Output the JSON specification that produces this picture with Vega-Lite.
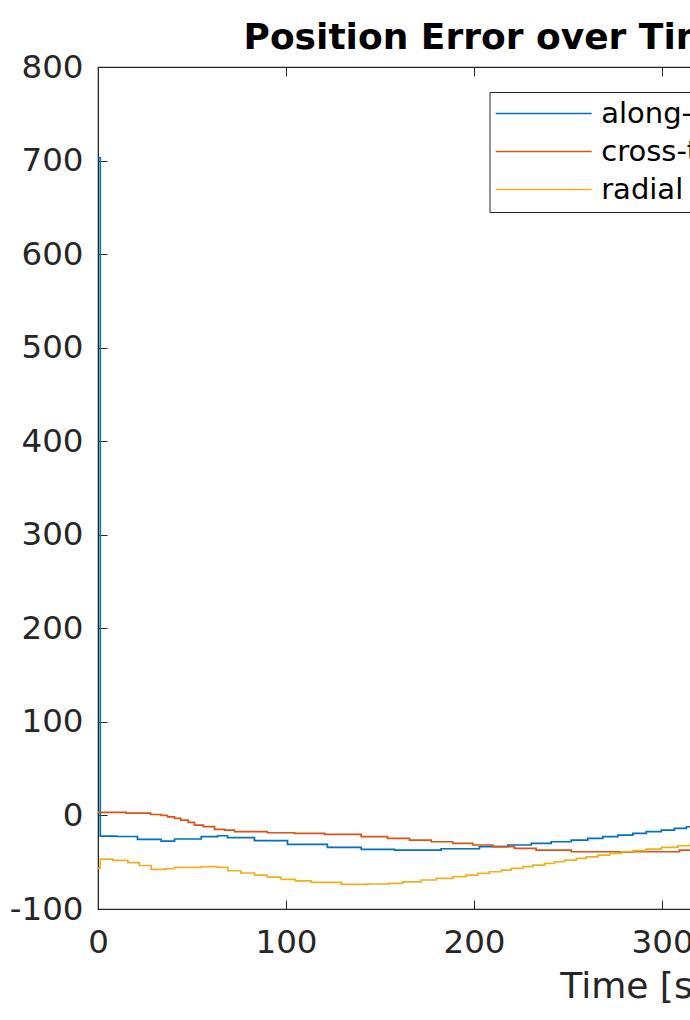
{
  "$schema": "https://vega.github.io/schema/vega-lite/v6.json",
  "width": 1070,
  "height": 842,
  "autosize": {"type": "pad"},
  "padding": {"left": 0, "top": 20, "right": 0, "bottom": 0},
  "background": "white",
  "config": {
    "font": "DejaVu Sans",
    "view": {"stroke": "#262626", "strokeWidth": 1.2}
  },
  "title": {
    "text": "Position Error over Time",
    "anchor": "start",
    "frame": "group",
    "dx": 145.5,
    "fontSize": 36,
    "fontWeight": "bold",
    "color": "#000000",
    "font": "DejaVu Sans",
    "offset": -6
  },
  "data": {
    "values": [
      {"t": 0, "v": 703, "c": "along-track"},
      {"t": 1.2, "v": -22, "c": "along-track"},
      {"t": 10, "v": -22.5, "c": "along-track"},
      {"t": 21, "v": -25.6, "c": "along-track"},
      {"t": 33.6, "v": -27.4, "c": "along-track"},
      {"t": 40.7, "v": -25.2, "c": "along-track"},
      {"t": 54.9, "v": -22.7, "c": "along-track"},
      {"t": 63.6, "v": -21.7, "c": "along-track"},
      {"t": 68.9, "v": -23.8, "c": "along-track"},
      {"t": 83.2, "v": -27, "c": "along-track"},
      {"t": 100.8, "v": -30.9, "c": "along-track"},
      {"t": 122, "v": -34.1, "c": "along-track"},
      {"t": 140, "v": -36.3, "c": "along-track"},
      {"t": 157.7, "v": -37, "c": "along-track"},
      {"t": 182.5, "v": -35.6, "c": "along-track"},
      {"t": 202.9, "v": -33.4, "c": "along-track"},
      {"t": 218, "v": -31.6, "c": "along-track"},
      {"t": 230.4, "v": -29.8, "c": "along-track"},
      {"t": 241, "v": -28.1, "c": "along-track"},
      {"t": 251.7, "v": -26.3, "c": "along-track"},
      {"t": 260.5, "v": -24.5, "c": "along-track"},
      {"t": 268.5, "v": -22.7, "c": "along-track"},
      {"t": 276.5, "v": -21, "c": "along-track"},
      {"t": 284.5, "v": -19.2, "c": "along-track"},
      {"t": 291.6, "v": -17.4, "c": "along-track"},
      {"t": 299.6, "v": -15.6, "c": "along-track"},
      {"t": 306.6, "v": -13.8, "c": "along-track"},
      {"t": 312.9, "v": -12.1, "c": "along-track"},
      {"t": 320, "v": -11, "c": "along-track"},
      {"t": 0, "v": 3.3, "c": "cross-track"},
      {"t": 15, "v": 2.5, "c": "cross-track"},
      {"t": 28, "v": 1, "c": "cross-track"},
      {"t": 33.6, "v": 0, "c": "cross-track"},
      {"t": 37, "v": -1.5, "c": "cross-track"},
      {"t": 40.7, "v": -3.1, "c": "cross-track"},
      {"t": 44, "v": -5, "c": "cross-track"},
      {"t": 48, "v": -7.5, "c": "cross-track"},
      {"t": 51.3, "v": -10.3, "c": "cross-track"},
      {"t": 56, "v": -12, "c": "cross-track"},
      {"t": 62, "v": -14.9, "c": "cross-track"},
      {"t": 67.3, "v": -15.6, "c": "cross-track"},
      {"t": 72.6, "v": -17.4, "c": "cross-track"},
      {"t": 90, "v": -18.5, "c": "cross-track"},
      {"t": 104.5, "v": -19.2, "c": "cross-track"},
      {"t": 120.5, "v": -20.2, "c": "cross-track"},
      {"t": 140, "v": -22.7, "c": "cross-track"},
      {"t": 154, "v": -24.5, "c": "cross-track"},
      {"t": 165.7, "v": -26.3, "c": "cross-track"},
      {"t": 177.2, "v": -28.1, "c": "cross-track"},
      {"t": 188.7, "v": -29.8, "c": "cross-track"},
      {"t": 199.4, "v": -31.6, "c": "cross-track"},
      {"t": 210, "v": -33.4, "c": "cross-track"},
      {"t": 221.5, "v": -35.2, "c": "cross-track"},
      {"t": 233, "v": -37, "c": "cross-track"},
      {"t": 251.7, "v": -38.8, "c": "cross-track"},
      {"t": 277.4, "v": -39.2, "c": "cross-track"},
      {"t": 284.5, "v": -38.8, "c": "cross-track"},
      {"t": 309.3, "v": -37, "c": "cross-track"},
      {"t": 320, "v": -37, "c": "cross-track"},
      {"t": 0, "v": -56.6, "c": "radial"},
      {"t": 1.2, "v": -46.6, "c": "radial"},
      {"t": 8, "v": -48, "c": "radial"},
      {"t": 15.9, "v": -50.5, "c": "radial"},
      {"t": 22, "v": -53.5, "c": "radial"},
      {"t": 28.3, "v": -57.6, "c": "radial"},
      {"t": 36, "v": -57, "c": "radial"},
      {"t": 40.7, "v": -55.5, "c": "radial"},
      {"t": 54.9, "v": -54.8, "c": "radial"},
      {"t": 63.6, "v": -55.5, "c": "radial"},
      {"t": 69, "v": -59.1, "c": "radial"},
      {"t": 76, "v": -61.5, "c": "radial"},
      {"t": 83.2, "v": -63.7, "c": "radial"},
      {"t": 90, "v": -66, "c": "radial"},
      {"t": 97.4, "v": -68.3, "c": "radial"},
      {"t": 105, "v": -70, "c": "radial"},
      {"t": 113.4, "v": -71.5, "c": "radial"},
      {"t": 129.4, "v": -73.6, "c": "radial"},
      {"t": 143.5, "v": -73.3, "c": "radial"},
      {"t": 155, "v": -72.6, "c": "radial"},
      {"t": 162, "v": -70.9, "c": "radial"},
      {"t": 171.9, "v": -69, "c": "radial"},
      {"t": 179.9, "v": -67.2, "c": "radial"},
      {"t": 188.7, "v": -65.5, "c": "radial"},
      {"t": 195.8, "v": -63.7, "c": "radial"},
      {"t": 202, "v": -61.9, "c": "radial"},
      {"t": 208.2, "v": -60.2, "c": "radial"},
      {"t": 214.5, "v": -58.4, "c": "radial"},
      {"t": 219.8, "v": -56.6, "c": "radial"},
      {"t": 226, "v": -54.8, "c": "radial"},
      {"t": 231.3, "v": -53, "c": "radial"},
      {"t": 237.5, "v": -51.3, "c": "radial"},
      {"t": 242.8, "v": -49.5, "c": "radial"},
      {"t": 248.1, "v": -47.7, "c": "radial"},
      {"t": 254.4, "v": -45.9, "c": "radial"},
      {"t": 259.7, "v": -44.2, "c": "radial"},
      {"t": 265.9, "v": -42.4, "c": "radial"},
      {"t": 272.1, "v": -40.6, "c": "radial"},
      {"t": 278.3, "v": -38.8, "c": "radial"},
      {"t": 284.5, "v": -37.7, "c": "radial"},
      {"t": 291.6, "v": -35.9, "c": "radial"},
      {"t": 299.6, "v": -34.1, "c": "radial"},
      {"t": 308.4, "v": -32.4, "c": "radial"},
      {"t": 315, "v": -31, "c": "radial"},
      {"t": 320, "v": -31, "c": "radial"}
    ]
  },
  "layer": [
    {
      "mark": {"type": "line", "interpolate": "step-after", "strokeWidth": 1.7},
      "encoding": {
        "x": {
          "field": "t",
          "type": "quantitative",
          "scale": {"domain": [0, 569.1], "nice": false, "zero": false},
          "axis": {
            "orient": "bottom",
            "values": [0, 100, 200, 300, 400, 500],
            "grid": false,
            "tickSize": -9,
            "tickColor": "#262626",
            "domainColor": "#262626",
            "labelFontSize": 32.5,
            "labelColor": "#262626",
            "labelPadding": 26,
            "labelFlush": false,
            "labelOverlap": false,
            "title": "Time [s]",
            "titleFontSize": 36,
            "titleFontWeight": "normal",
            "titleColor": "#262626",
            "titlePadding": 11
          }
        },
        "y": {
          "field": "v",
          "type": "quantitative",
          "scale": {"domain": [-100, 800], "nice": false, "zero": false},
          "axis": {
            "orient": "left",
            "values": [-100, 0, 100, 200, 300, 400, 500, 600, 700, 800],
            "labelExpr": "datum.value < 0 ? '-' + abs(datum.value) : '' + datum.value",
            "grid": false,
            "tickSize": -9,
            "tickColor": "#262626",
            "domainColor": "#262626",
            "labelFontSize": 32.5,
            "labelColor": "#262626",
            "labelPadding": 24,
            "labelOverlap": false,
            "labelFlush": false,
            "title": null,
            "minExtent": 98,
            "maxExtent": 98
          }
        },
        "color": {
          "field": "c",
          "type": "nominal",
          "scale": {
            "domain": ["along-track", "cross-track", "radial"],
            "range": ["#0072BD", "#D95319", "#EDB120"]
          },
          "legend": {
            "orient": "none",
            "legendX": 391.5,
            "legendY": 25,
            "title": null,
            "symbolType": "M-1.275,0H6.725",
            "symbolSize": 576,
            "symbolStrokeWidth": 1.6,
            "labelFontSize": 29,
            "labelColor": "#000000",
            "labelOffset": 75.7,
            "labelLimit": 0,
            "padding": 7,
            "rowPadding": 8,
            "strokeColor": "#262626",
            "fillColor": "#ffffff"
          }
        }
      }
    },
    {
      "mark": {"type": "point", "opacity": 0},
      "encoding": {
        "x": {
          "field": "t",
          "type": "quantitative",
          "axis": {
            "orient": "top",
            "values": [0, 100, 200, 300, 400, 500],
            "grid": false,
            "labels": false,
            "title": null,
            "tickSize": -9,
            "tickColor": "#262626",
            "domainColor": "#262626"
          }
        },
        "y": {
          "field": "v",
          "type": "quantitative",
          "axis": {
            "orient": "right",
            "values": [-100, 0, 100, 200, 300, 400, 500, 600, 700, 800],
            "grid": false,
            "labels": false,
            "title": null,
            "tickSize": -9,
            "tickColor": "#262626",
            "domainColor": "#262626"
          }
        }
      }
    }
  ],
  "resolve": {"axis": {"x": "independent", "y": "independent"}}
}
